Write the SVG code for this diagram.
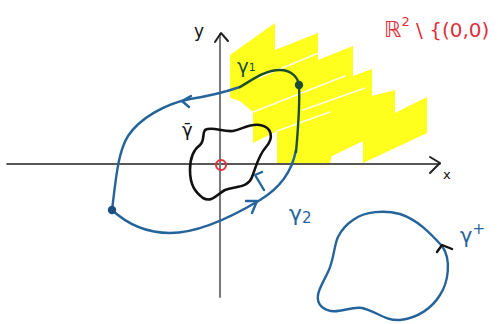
<svg xmlns="http://www.w3.org/2000/svg" width="498" height="324" viewBox="0 0 498 324">
<style>
.yel{fill:#ffff1e;stroke:none}
.gap{stroke:#ffffff;stroke-width:1.6;fill:none;opacity:0.9;stroke-linecap:round}
.axis{fill:none;stroke-linecap:round;stroke-linejoin:round}
.blue{fill:none;stroke:#25649a;stroke-width:2.4;stroke-linecap:round;stroke-linejoin:round}
.green{fill:none;stroke:#1b4f2a;stroke-width:2.4;stroke-linecap:round;stroke-linejoin:round}
.black{fill:none;stroke:#111;stroke-width:2.6;stroke-linecap:round;stroke-linejoin:round}
.hand{font-family:"DejaVu Sans",sans-serif}
</style>
<rect width="498" height="324" fill="#ffffff"/>
<g id="region">
<polygon class="yel" points="230,55 275,23 275,50 318,33 318,60 353,46 353,76 372,69 372,96 395,90 395,113 427,97 427,133 363,163 363,141 332,156 330,163 277,163 277,131 253,143 253,112 240,101 230,98"/>
<path class="gap" d="M258,78 L338,45"/>
<path class="gap" d="M253,112 L345,76"/>
<path class="gap" d="M303,110 L365,88"/>
<path class="gap" d="M277,131 L330,112"/>
</g>
<g id="axes">
<path class="axis" d="M7,164 L440,164" stroke="#222" stroke-width="1.6"/>
<path class="axis" d="M430,157 L440,163 L430,173" stroke="#222" stroke-width="2"/>
<path class="axis" d="M220,297 L220,34" stroke="#7a7a7a" stroke-width="2"/>
<path class="axis" d="M215,42 L221,33 L228,41" stroke="#222" stroke-width="2"/>
<text class="hand" x="194" y="37" font-size="17" fill="#111">y</text>
<text class="hand" x="443" y="179" font-size="13" fill="#111">x</text>
</g>
<g id="origin">
<circle cx="221" cy="165" r="5" fill="none" stroke="#e0303a" stroke-width="2"/>
</g>
<g id="connectors">
<path class="blue" d="M240,87 C228,91 210,96 190,99 C165,104 140,118 128,136 C118,152 116,178 112,210 C125,222 145,233 170,233 C200,233 235,215 260,200 C280,188 292,172 296,150"/>
<path class="blue" d="M191,96 L182,101 L189,107"/>
<path class="blue" d="M246,201 L257,201 L252,213"/>
<path class="green" d="M240,87 C252,80 265,70 280,70 C292,70 298,78 299,85 C300,105 298,130 296,152"/>
</g>
<g id="gamma-bar">
<path class="black" d="M205,130 C212,126 222,132 233,131 C243,129 250,123 260,125 C272,127 274,138 266,147 C258,156 256,167 252,177 C248,188 236,186 225,190 C217,194 212,203 203,198 C195,192 190,185 190,170 C190,158 193,150 200,145 C205,140 202,134 205,130 Z"/>
<path class="blue" d="M262,172 L255,175 L264,190"/>
<text class="hand" x="182" y="136" font-size="18" fill="#111">γ̄</text>
</g>
<g id="dots">
<circle cx="299" cy="85" r="4.2" fill="#1b4f2a"/>
<circle cx="112" cy="210" r="4.2" fill="#1e4f80"/>
</g>
<g id="gamma-plus">
<path class="blue" d="M353,220 C365,211 385,210 400,214 C418,220 430,233 442,246 C452,260 448,283 440,295 C432,308 418,318 400,320 C385,321 378,312 362,308 C348,306 335,317 322,307 C312,298 322,285 328,272 C334,260 334,245 338,237 C342,229 347,224 353,220 Z"/>
<path d="M437,252 L442,245 L452,249" fill="none" stroke="#111" stroke-width="2.4" stroke-linecap="round" stroke-linejoin="round"/>
<text class="hand" x="460" y="243" font-size="21" fill="#25649a">γ<tspan font-size="15" dy="-9">+</tspan></text>
</g>
<g id="labels">
<text class="hand" x="237" y="73" font-size="20" fill="#1b4f2a">γ<tspan font-size="11" dy="-2">1</tspan></text>
<text class="hand" x="289" y="221" font-size="22" fill="#25649a">γ<tspan font-size="15" dy="2">2</tspan></text>
<text class="hand" x="384" y="37" font-size="22" fill="#e0303a">ℝ<tspan font-size="13" dy="-11">2</tspan><tspan dy="11" font-size="20"> \ {(0,0)</tspan></text>
</g>
</svg>
